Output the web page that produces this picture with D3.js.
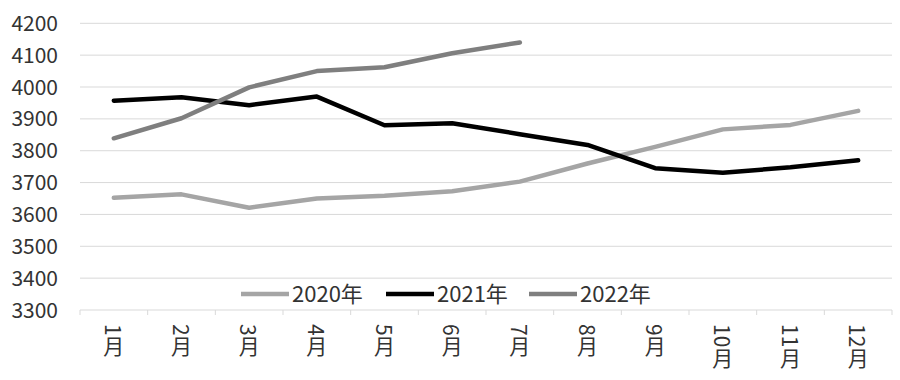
<!DOCTYPE html>
<html><head><meta charset="utf-8">
<script src="https://cdn.jsdelivr.net/npm/d3@7"></script>
<style>body{margin:0;background:#fff}svg{display:block}</style>
</head><body>
<svg id="c" width="900" height="380"></svg>
<script>
const months = ["1月","2月","3月","4月","5月","6月","7月","8月","9月","10月","11月","12月"];
const s2020 = [3652,3663,3621,3650,3659,3673,3703,3760,3812,3867,3881,3925];
const s2021 = [3957,3968,3943,3970,3880,3886,3852,3818,3745,3731,3748,3770];
const s2022 = [3839,3902,3999,4050,4062,4106,4140];
const yTicks = [3300,3400,3500,3600,3700,3800,3900,4000,4100,4200];
const seriesNames = ["2020年","2021年","2022年"];
const seriesColors = ["#a5a5a5","#000000","#7f7f7f"];
const seriesData = [s2020,s2021,s2022];

const svg = d3.select("#c");
const font = "'Noto Sans CJK SC', 'Noto Sans', sans-serif";
const x = d3.scaleBand().domain(months).range([80,892]);
const y = d3.scaleLinear().domain([3300,4200]).range([310,23.3]);

svg.append("g").selectAll("line").data(yTicks).join("line")
  .attr("x1",80).attr("x2",892).attr("y1",d=>y(d)).attr("y2",d=>y(d))
  .attr("stroke","#d9d9d9").attr("stroke-width",1);

svg.append("g").selectAll("text").data(yTicks).join("text")
  .attr("x",58).attr("y",d=>y(d)).attr("dy","0.36em").attr("text-anchor","end")
  .attr("font-family",font).attr("font-size",21).attr("fill","#333")
  .text(d=>d);

const bounds = months.map(m=>x(m)).concat([892]);
svg.append("g").selectAll("line").data(bounds).join("line")
  .attr("x1",d=>d).attr("x2",d=>d).attr("y1",310).attr("y2",315)
  .attr("stroke","#d9d9d9");

svg.append("g").selectAll("text").data(months).join("text")
  .attr("x",d=>x(d)+x.bandwidth()/2).attr("y",324)
  .attr("style","writing-mode: vertical-rl;")
  .attr("font-family",font).attr("font-size",21).attr("fill","#333")
  .text(d=>d);

const line = d3.line().x((d,i)=>x(months[i])+x.bandwidth()/2).y(d=>y(d));
seriesData.forEach((s,k)=>{
  svg.append("path").datum(s).attr("d",line)
    .attr("fill","none").attr("stroke",seriesColors[k])
    .attr("stroke-width",4.5).attr("stroke-linejoin","round").attr("stroke-linecap","round");
});

const legX = [241,386,529];
const lg = svg.append("g");
seriesNames.forEach((n,k)=>{
  lg.append("line").attr("x1",legX[k]).attr("x2",legX[k]+48).attr("y1",294).attr("y2",294)
    .attr("stroke",seriesColors[k]).attr("stroke-width",4.5);
  lg.append("text").attr("x",legX[k]+51).attr("y",294).attr("dy","0.36em")
    .attr("font-family",font).attr("font-size",22).attr("fill","#333").text(n);
});
</script>
</body></html>
